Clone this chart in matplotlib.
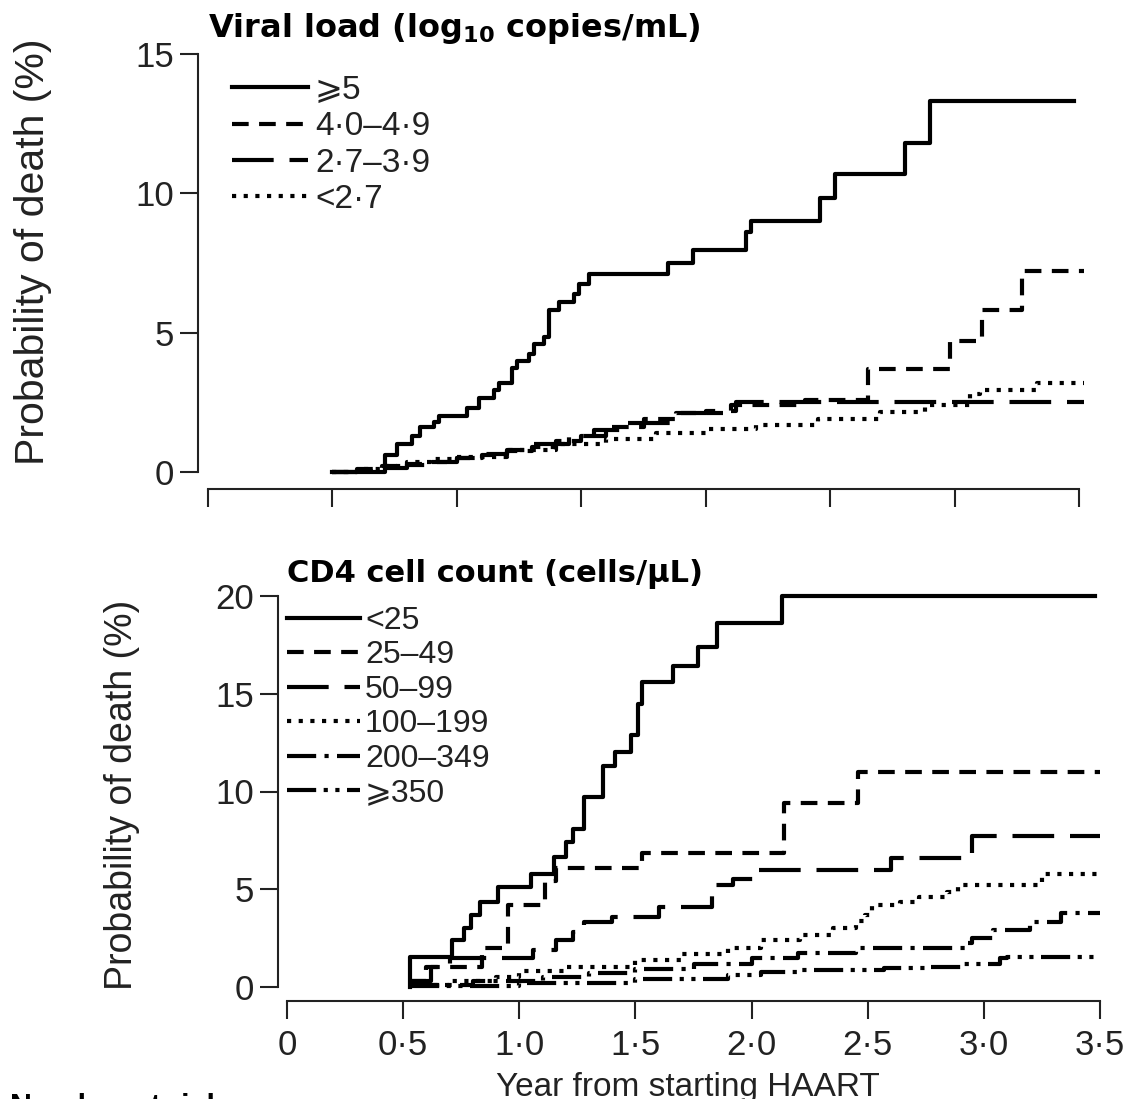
import numpy as np
import matplotlib.pyplot as plt

plt.rcParams['font.family'] = ['Liberation Sans', 'DejaVu Sans']
plt.rcParams['mathtext.fontset'] = 'dejavusans'

# ---- top panel: viral load (log10 copies/mL) ----
vl_labels = ['⩾5', '4·0–4·9', '2·7–3·9', '<2·7']

vl5_t = [0.50, 0.71, 0.76, 0.82, 0.85, 0.91, 0.93, 1.04, 1.09, 1.15, 1.17, 1.22, 1.24, 1.29, 1.31,
         1.35, 1.37, 1.41, 1.47, 1.49, 1.53, 1.85, 1.95, 2.16, 2.18, 2.46, 2.52, 2.80, 2.90, 3.48]
vl5_y = [0.0, 0.6, 1.0, 1.3, 1.6, 1.8, 2.0, 2.3, 2.65, 2.95, 3.2, 3.75, 4.0, 4.25, 4.6,
         4.85, 5.8, 6.1, 6.4, 6.75, 7.1, 7.5, 7.95, 8.6, 9.0, 9.85, 10.7, 11.8, 13.3, 13.3]

vl4_t = [0.50, 0.60, 0.70, 0.80, 0.90, 1.00, 1.10, 1.20, 1.30, 1.40, 1.50, 1.60, 1.75, 1.90,
         2.10, 2.40, 2.65, 2.98, 3.11, 3.27, 3.52]
vl4_y = [0.0, 0.1, 0.2, 0.3, 0.35, 0.5, 0.6, 0.75, 0.9, 1.1, 1.3, 1.6, 1.9, 2.1,
         2.4, 2.6, 3.7, 4.7, 5.8, 7.2, 7.2]

vl3_t = [0.50, 0.60, 0.70, 0.80, 0.90, 1.00, 1.10, 1.20, 1.30, 1.45, 1.55, 1.68, 1.88, 2.00, 2.12, 3.52]
vl3_y = [0.0, 0.05, 0.15, 0.25, 0.35, 0.5, 0.65, 0.8, 1.0, 1.3, 1.5, 1.75, 2.1, 2.2, 2.5, 2.5]

vl2_t = [0.50, 0.60, 0.70, 0.80, 0.90, 1.00, 1.20, 1.40, 1.60, 1.80, 2.00, 2.20, 2.45, 2.70,
         2.88, 3.06, 3.10, 3.33, 3.52]
vl2_y = [0.0, 0.1, 0.2, 0.35, 0.45, 0.55, 0.8, 1.0, 1.2, 1.4, 1.55, 1.7, 1.9, 2.15,
         2.4, 2.8, 2.95, 3.2, 3.2]

# ---- bottom panel: CD4 cell count (cells/uL) ----
cd_labels = ['<25', '25–49', '50–99', '100–199', '200–349', '⩾350']

cd1_t = [0.53, 0.53, 0.71, 0.76, 0.79, 0.83, 0.91, 1.05, 1.15, 1.20, 1.23, 1.28, 1.36, 1.41, 1.48,
         1.51, 1.53, 1.66, 1.77, 1.85, 2.13, 3.48]
cd1_y = [0.0, 1.55, 2.4, 3.0, 3.7, 4.35, 5.1, 5.8, 6.65, 7.4, 8.1, 9.7, 11.3, 12.0, 12.9,
         14.5, 15.6, 16.4, 17.4, 18.6, 20.0, 20.0]

cd2_t = [0.53, 0.60, 0.84, 0.95, 1.11, 1.16, 1.53, 2.14, 2.46, 3.50]
cd2_y = [0.3, 1.0, 2.0, 4.2, 5.4, 6.1, 6.85, 9.4, 11.0, 11.0]

cd3_t = [0.53, 0.62, 0.70, 1.06, 1.16, 1.23, 1.28, 1.40, 1.60, 1.83, 1.92, 2.02, 2.60, 2.95, 3.50]
cd3_y = [0.3, 1.0, 1.5, 1.9, 2.4, 2.8, 3.3, 3.6, 4.1, 5.2, 5.5, 6.0, 6.6, 7.7, 7.7]

cd4_t = [0.53, 0.70, 0.90, 1.00, 1.20, 1.50, 1.70, 1.90, 2.04, 2.21, 2.35, 2.45, 2.49, 2.52,
         2.64, 2.72, 2.84, 2.89, 3.25, 3.50]
cd4_y = [0.1, 0.3, 0.5, 0.8, 1.0, 1.4, 1.7, 2.0, 2.4, 2.65, 3.0, 3.4, 3.7, 4.2,
         4.35, 4.6, 4.85, 5.2, 5.8, 5.8]

cd5_t = [0.53, 0.80, 1.10, 1.30, 1.50, 1.75, 2.00, 2.20, 2.45, 2.93, 2.95, 3.04, 3.20, 3.33, 3.50]
cd5_y = [0.1, 0.3, 0.5, 0.7, 0.9, 1.2, 1.5, 1.73, 2.0, 2.25, 2.5, 2.9, 3.3, 3.8, 3.8]

cd6_t = [0.53, 1.00, 1.50, 1.90, 2.04, 2.20, 2.57, 2.75, 2.90, 3.07, 3.10, 3.50]
cd6_y = [0.05, 0.2, 0.4, 0.6, 0.77, 0.85, 0.97, 1.0, 1.2, 1.5, 1.55, 1.55]

xticks = [0, 0.5, 1.0, 1.5, 2.0, 2.5, 3.0, 3.5]
xticklabels = ['0', '0·5', '1·0', '1·5', '2·0', '2·5', '3·0', '3·5']

# line styles
LW = 3
s_solid = '-'
s_dash = (0, (4, 2.5))
s_long = (0, (10, 3.8))
s_dot = (0, (1, 1.8))
s_dashdot = (0, (7, 2, 1, 2))
s_dashdotdot = (0, (7, 1.8, 1, 1.8, 1, 1.8))

W, H = 1129, 1099
fig = plt.figure(figsize=(W / 100, H / 100), dpi=100)


def add_ax(x0, ytop, w, h):
    return fig.add_axes([x0 / W, 1 - (ytop + h) / H, w / W, h / H])


def style_axis(ax, left_out, bottom_out, ymax):
    for s in ['top', 'right']:
        ax.spines[s].set_visible(False)
    ax.spines['left'].set_position(('outward', left_out))
    ax.spines['bottom'].set_position(('outward', bottom_out))
    ax.spines['left'].set_bounds(0, ymax)
    ax.spines['bottom'].set_bounds(0, 3.5)
    for s in ['left', 'bottom']:
        ax.spines[s].set_linewidth(1.5)
        ax.spines[s].set_color('#222222')
    ax.tick_params(direction='out', length=13, width=1.5, color='#222222',
                   labelsize=25, labelcolor='#222222')
    ax.tick_params(axis='y', pad=4)
    ax.tick_params(axis='x', pad=7)
    ax.set_xlim(0, 3.55)
    ax.set_ylim(0, ymax)
    ax.set_xticks(xticks)


# top panel
ax1 = add_ax(208, 54, 3.55 * 248.9, 418)
ax1.step(vl5_t, vl5_y, where='post', color='black', lw=LW, ls=s_solid, label=vl_labels[0], clip_on=False)
ax1.step(vl4_t, vl4_y, where='post', color='black', lw=LW, ls=s_dash, label=vl_labels[1], clip_on=False)
ax1.step(vl3_t, vl3_y, where='post', color='black', lw=LW, ls=s_long, label=vl_labels[2], clip_on=False)
ax1.step(vl2_t, vl2_y, where='post', color='black', lw=LW, ls=s_dot, label=vl_labels[3], clip_on=False)
style_axis(ax1, 7.2, 12, 15)
ax1.set_yticks([0, 5, 10, 15])
ax1.set_xticklabels([])
ax1.set_ylabel('Probability of death (%)', fontsize=29.5, color='#222222')
ax1.yaxis.set_label_coords(-0.177, 0.526)
ax1.legend(loc='upper left', bbox_to_anchor=(232 / W, 1 - 75 / H), bbox_transform=fig.transFigure,
           frameon=False, fontsize=24, handlelength=2.28, handletextpad=0.21,
           labelspacing=0.16, borderpad=0, borderaxespad=0, labelcolor='#222222')
fig.text(208 / W, 1 - 37 / H, r'Viral load (log$_{\mathbf{10}}$ copies/mL)',
         fontsize=23, fontweight='bold', va='baseline', ha='left', family='DejaVu Sans')

# bottom panel
ax2 = add_ax(287, 596, 3.55 * 232.3, 391)
ax2.step(cd1_t, cd1_y, where='post', color='black', lw=LW, ls=s_solid, label=cd_labels[0], clip_on=False)
ax2.step(cd2_t, cd2_y, where='post', color='black', lw=LW, ls=s_dash, label=cd_labels[1], clip_on=False)
ax2.step(cd3_t, cd3_y, where='post', color='black', lw=LW, ls=s_long, label=cd_labels[2], clip_on=False)
ax2.step(cd4_t, cd4_y, where='post', color='black', lw=LW, ls=s_dot, label=cd_labels[3], clip_on=False)
ax2.step(cd5_t, cd5_y, where='post', color='black', lw=LW, ls=s_dashdot, label=cd_labels[4], clip_on=False)
ax2.step(cd6_t, cd6_y, where='post', color='black', lw=LW, ls=s_dashdotdot, label=cd_labels[5], clip_on=False)
style_axis(ax2, 6.5, 10, 20)
ax2.set_yticks([0, 5, 10, 15, 20])
ax2.set_xticklabels(xticklabels)
ax2.set_ylabel('Probability of death (%)', fontsize=27, color='#222222')
ax2.yaxis.set_label_coords(-0.178, 0.491)
ax2.set_xlabel('Year from starting HAART', fontsize=24, color='#222222')
ax2.xaxis.set_label_coords(0.486, -0.217)
ax2.legend(loc='upper left', bbox_to_anchor=(287 / W, 1 - 606 / H), bbox_transform=fig.transFigure,
           frameon=False, fontsize=23, handlelength=2.29, handletextpad=0.15,
           labelspacing=0.14, borderpad=0, borderaxespad=0, labelcolor='#222222')
fig.text(287 / W, 1 - 582 / H, 'CD4 cell count (cells/μL)',
         fontsize=22, fontweight='bold', va='baseline', ha='left', family='DejaVu Sans')

fig.text(10 / W, 1 - 1093 / H, 'Number at risk', fontsize=22, fontweight='bold', va='top', ha='left')

fig.savefig('out.png', dpi=100)
